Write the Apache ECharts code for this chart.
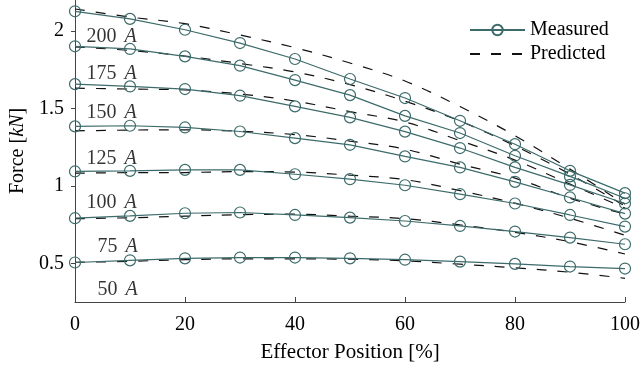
<!DOCTYPE html>
<html>
<head>
<meta charset="utf-8">
<script src="https://cdn.jsdelivr.net/npm/echarts@6/dist/echarts.min.js"></script>
<style>html,body{margin:0;padding:0;background:#fff;}#c{width:642px;height:369px;}</style>
</head>
<body>
<div id="c"></div>
<script>
// Effector position [%]
const positions = [0, 10, 20, 30, 40, 50, 60, 70, 80, 90, 100];
const currents = ['200', '175', '150', '125', '100', '75', '50'];

// Measured force [kN]
const measured200 = [2.127, 2.078, 2.008, 1.922, 1.819, 1.690, 1.567, 1.420, 1.269, 1.097, 0.953];
const measured175 = [1.901, 1.884, 1.836, 1.776, 1.683, 1.586, 1.452, 1.341, 1.194, 1.061, 0.920];
const measured150 = [1.657, 1.642, 1.625, 1.582, 1.513, 1.442, 1.350, 1.244, 1.119, 1.006, 0.886];
const measured125 = [1.384, 1.388, 1.377, 1.351, 1.308, 1.265, 1.190, 1.119, 1.026, 0.925, 0.821];
const measured100 = [1.093, 1.097, 1.103, 1.103, 1.075, 1.043, 1.004, 0.946, 0.886, 0.812, 0.737];
const measured75  = [0.791, 0.806, 0.823, 0.828, 0.812, 0.795, 0.773, 0.741, 0.705, 0.666, 0.623];
const measured50  = [0.505, 0.519, 0.532, 0.537, 0.537, 0.532, 0.523, 0.511, 0.496, 0.479, 0.466];

// Predicted force [kN]
const predicted200 = [2.142, 2.090, 2.047, 1.974, 1.892, 1.793, 1.677, 1.512, 1.324, 1.108, 0.881];
const predicted175 = [1.897, 1.874, 1.838, 1.790, 1.735, 1.654, 1.547, 1.418, 1.258, 1.075, 0.869];
const predicted150 = [1.631, 1.625, 1.619, 1.593, 1.547, 1.479, 1.412, 1.292, 1.166, 1.011, 0.856];
const predicted125 = [1.355, 1.360, 1.362, 1.352, 1.331, 1.289, 1.237, 1.140, 1.050, 0.920, 0.817];
const predicted100 = [1.082, 1.085, 1.086, 1.092, 1.089, 1.069, 1.040, 0.969, 0.888, 0.791, 0.681];
const predicted75  = [0.788, 0.794, 0.804, 0.814, 0.817, 0.804, 0.788, 0.748, 0.700, 0.639, 0.560];
const predicted50  = [0.506, 0.513, 0.523, 0.529, 0.529, 0.526, 0.516, 0.494, 0.471, 0.442, 0.403];

// Current annotations (data coordinates of label anchors)
const annotationX = [2, 2, 2, 2, 2, 4, 4];
const annotationY = [1.965, 1.726, 1.474, 1.178, 0.888, 0.608, 0.328];

// Tick values
const xTicks = [0, 20, 40, 60, 80, 100];
const yTicks = [0.5, 1, 1.5, 2];

const measuredSets = [measured200, measured175, measured150, measured125, measured100, measured75, measured50];
const predictedSets = [predicted200, predicted175, predicted150, predicted125, predicted100, predicted75, predicted50];

const FONT = 'Liberation Serif';
const TEAL = '#3d6b6b';
const AXIS = '#444';

const series = [];
predictedSets.forEach(function (vals) {
  series.push({
    name: 'Predicted', type: 'line', smooth: 0.35,
    symbol: 'circle', symbolSize: 0, showSymbol: false,
    data: positions.map(function (p, i) { return [p, vals[i]]; }),
    lineStyle: { color: '#111', width: 1.2, type: [10, 11] },
    itemStyle: { color: 'transparent', borderWidth: 0, opacity: 0 },
    z: 2, silent: true
  });
});
measuredSets.forEach(function (vals) {
  series.push({
    name: 'Measured', type: 'line',
    symbol: 'circle', symbolSize: 11,
    data: positions.map(function (p, i) { return [p, vals[i]]; }),
    lineStyle: { color: TEAL, width: 1.2 },
    itemStyle: { color: 'transparent', borderColor: TEAL, borderWidth: 1.2 },
    z: 3, silent: true
  });
});
series.push({
  name: 'labels', type: 'scatter', symbolSize: 1, silent: true,
  itemStyle: { color: 'transparent' },
  data: annotationX.map(function (x, i) { return [x, annotationY[i]]; }),
  label: {
    show: true, position: 'right', distance: 0,
    formatter: function (p) { return '{n|' + currents[p.dataIndex] + '}{a|A}'; },
    rich: {
      n: { fontFamily: FONT, fontSize: 20, color: '#000' },
      a: { fontFamily: FONT, fontSize: 20, fontStyle: 'italic', color: '#000', padding: [0, 0, 0, 8] }
    }
  },
  z: 4
});

const chart = echarts.init(document.getElementById('c'), null, { renderer: 'canvas' });
chart.setOption({
  animation: false,
  backgroundColor: '#fff',
  grid: { left: 75, right: 17, top: 0, bottom: 67, containLabel: false, outerBoundsMode: 'none' },
  legend: {
    data: ['Measured', { name: 'Predicted', itemStyle: { opacity: 0 } }],
    orient: 'vertical', left: 464, top: 15,
    itemWidth: 55, itemHeight: 13, itemGap: 4,
    textStyle: { fontFamily: FONT, fontSize: 20, color: '#000', lineHeight: 20 },
    selectedMode: false
  },
  xAxis: {
    type: 'value', min: 0, max: 100, interval: 20,
    name: 'Effector Position [%]', nameLocation: 'middle', nameGap: 40,
    nameTextStyle: { fontFamily: FONT, fontSize: 21, color: '#000' },
    axisLine: { show: true, onZero: false, lineStyle: { color: AXIS, width: 1 } },
    axisTick: { show: true, inside: true, length: 5, customValues: xTicks, lineStyle: { color: AXIS } },
    axisLabel: { fontFamily: FONT, fontSize: 20, color: '#000', margin: 13, customValues: xTicks },
    splitLine: { show: false }
  },
  yAxis: {
    type: 'value', min: 0.25, max: 2.2, interval: 0.25,
    name: 'Force [{i|kN}]', nameLocation: 'middle', nameGap: 47,
    nameTextStyle: { fontFamily: FONT, fontSize: 20, color: '#000',
      rich: { i: { fontFamily: FONT, fontSize: 20, fontStyle: 'italic', color: '#000' } } },
    axisLine: { show: true, onZero: false, lineStyle: { color: AXIS, width: 1 } },
    axisTick: { show: true, inside: false, length: 4, customValues: yTicks, lineStyle: { color: AXIS } },
    axisLabel: { fontFamily: FONT, fontSize: 20, color: '#000', margin: 11, customValues: yTicks },
    splitLine: { show: false }
  },
  series: series
});
</script>
</body>
</html>
